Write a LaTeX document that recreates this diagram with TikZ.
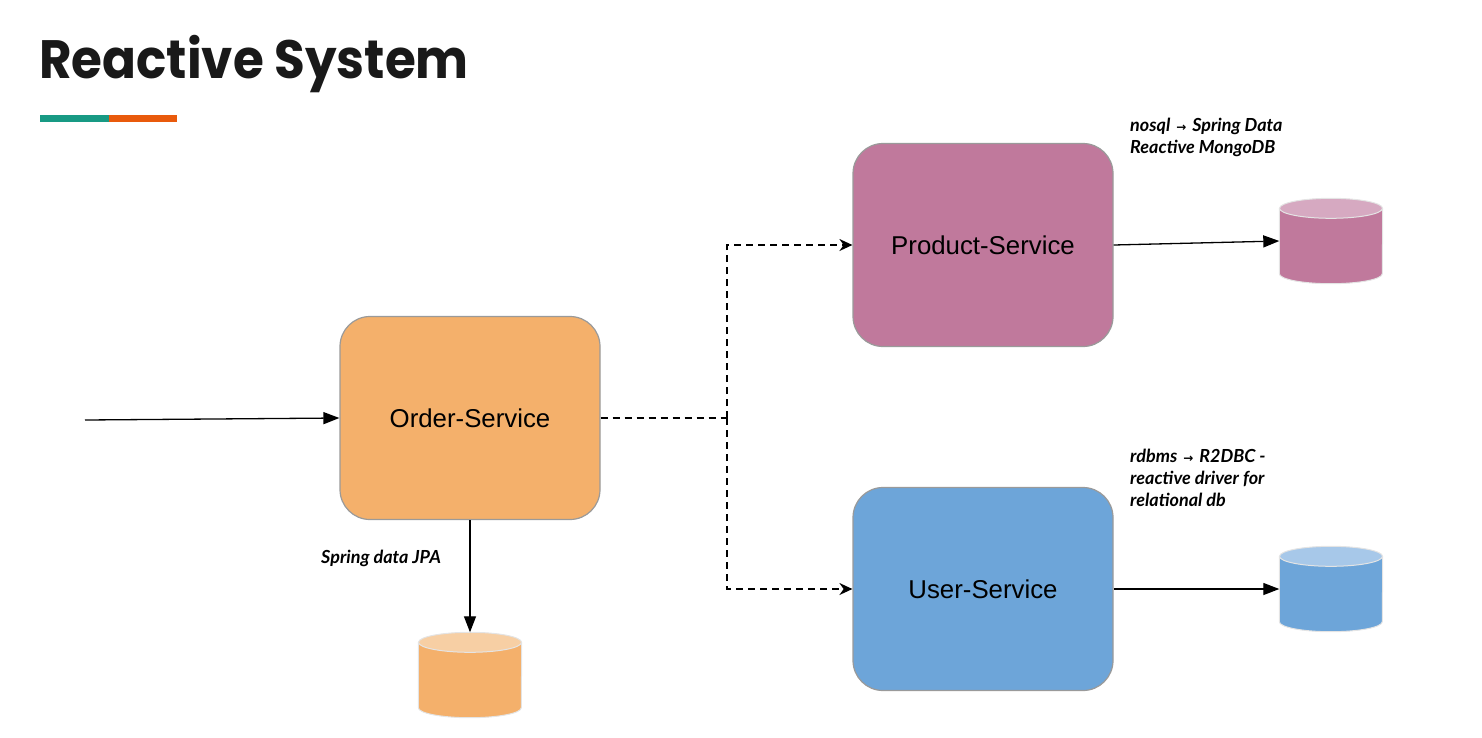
\documentclass[tikz,border=0pt]{standalone}
\usepackage{fontspec}
\setmainfont{Liberation Sans}
\newfontfamily\titlefont{Poppins}
\newfontfamily\notefont{Lato}
\newfontfamily\symfont{DejaVu Sans}
\usepackage{xcolor}
\usepackage{tikz}
\usetikzlibrary{arrows.meta,positioning,shapes.geometric,calc}
\definecolor{orderfill}{HTML}{F4B06B}
\definecolor{orderlight}{HTML}{F7CFA4}
\definecolor{productfill}{HTML}{C0799C}
\definecolor{productlight}{HTML}{D6A9C1}
\definecolor{userfill}{HTML}{6DA5D9}
\definecolor{userlight}{HTML}{A7C8E9}
\definecolor{barteal}{HTML}{189A84}
\definecolor{barorange}{HTML}{E95A0C}
\definecolor{edgegray}{HTML}{9A9A9A}
\definecolor{dbrim}{HTML}{E4E4E4}
\newcommand{\arr}{{\symfont\fontsize{12}{12}\selectfont\,→\,}}

\begin{document}
\begin{tikzpicture}[x=1pt,y=-1pt,
  service node/.style={draw=edgegray,line width=1.2pt,rounded corners=30pt,minimum width=260pt,minimum height=203pt,font=\fontsize{25.8}{30}\selectfont},
  db node/.style={inner sep=0pt,minimum width=103pt,minimum height=85pt},
  note/.style={anchor=base west,inner sep=0pt,align=left,font=\notefont\bfseries\itshape\fontsize{18}{22}\selectfont},
  link/.style={line width=1.3pt,-{Triangle[length=16pt,width=12pt]}},
  call/.style={line width=1.6pt,dash pattern=on 7pt off 5pt}]
          \useasboundingbox (0,0) rectangle (1482,737);
          \node[anchor=base west,inner sep=0pt,xscale=0.926,transform shape,font=\titlefont\bfseries\fontsize{54}{60}\selectfont,text=black!90] (title) at (39,78) {Reactive System};
          \fill[barteal] (40,115) rectangle (109,122);
          \fill[barorange] (109,115) rectangle (177,122);
          \node[service node,fill=orderfill] (order) at (470,418) {Order-Service};
          \node[service node,fill=productfill] (product) at (983,245) {Product-Service};
          \node[service node,fill=userfill] (user) at (983,589) {User-Service};
          \node[db node] (orderdb) at (470,675) {};
          \node[db node] (productdb) at (1331,241) {};
          \node[db node] (userdb) at (1331,589) {};
          \foreach \db/\body/\cap in {orderdb/orderfill/orderlight,productdb/productfill/productlight,userdb/userfill/userlight}{
            \filldraw[draw=dbrim,line width=1pt,fill=\body] ($(\db.north west)+(0,10)$)--($(\db.south west)+(0,-10)$)
              arc[start angle=180,end angle=0,x radius=51.5,y radius=10]--($(\db.north east)+(0,10)$)--cycle;
            \filldraw[draw=dbrim,line width=1pt,fill=\cap] ($(\db.north)+(0,10)$) ellipse[x radius=51.5,y radius=10];
          }
          \node[note] (nosqlnote) at (1130,153) {nosql \arr{} Spring Data\\Reactive MongoDB};
          \node[note] (rdbmsnote) at (1130,506) {rdbms \arr{} R2DBC -\\reactive driver for\\relational db};
          \node[note] (jpanote) at (321,563) {Spring data JPA};
          \coordinate (client) at (85,420);
          \coordinate (fork) at (727,418);
          \draw[link] (client)--(order.west);
          \draw[link] (order.south)--(orderdb.north);
          \draw[link] (product.east)--(productdb.west);
          \draw[link] (user.east)--(userdb.west);
          \draw[call] (order.east)--(fork);
          \draw[call,-{Stealth[length=13pt,width=12pt]}] (fork)|-(product.west);
          \draw[call,-{Stealth[length=13pt,width=12pt]}] (fork)|-(user.west);
        \end{tikzpicture}
\end{document}
